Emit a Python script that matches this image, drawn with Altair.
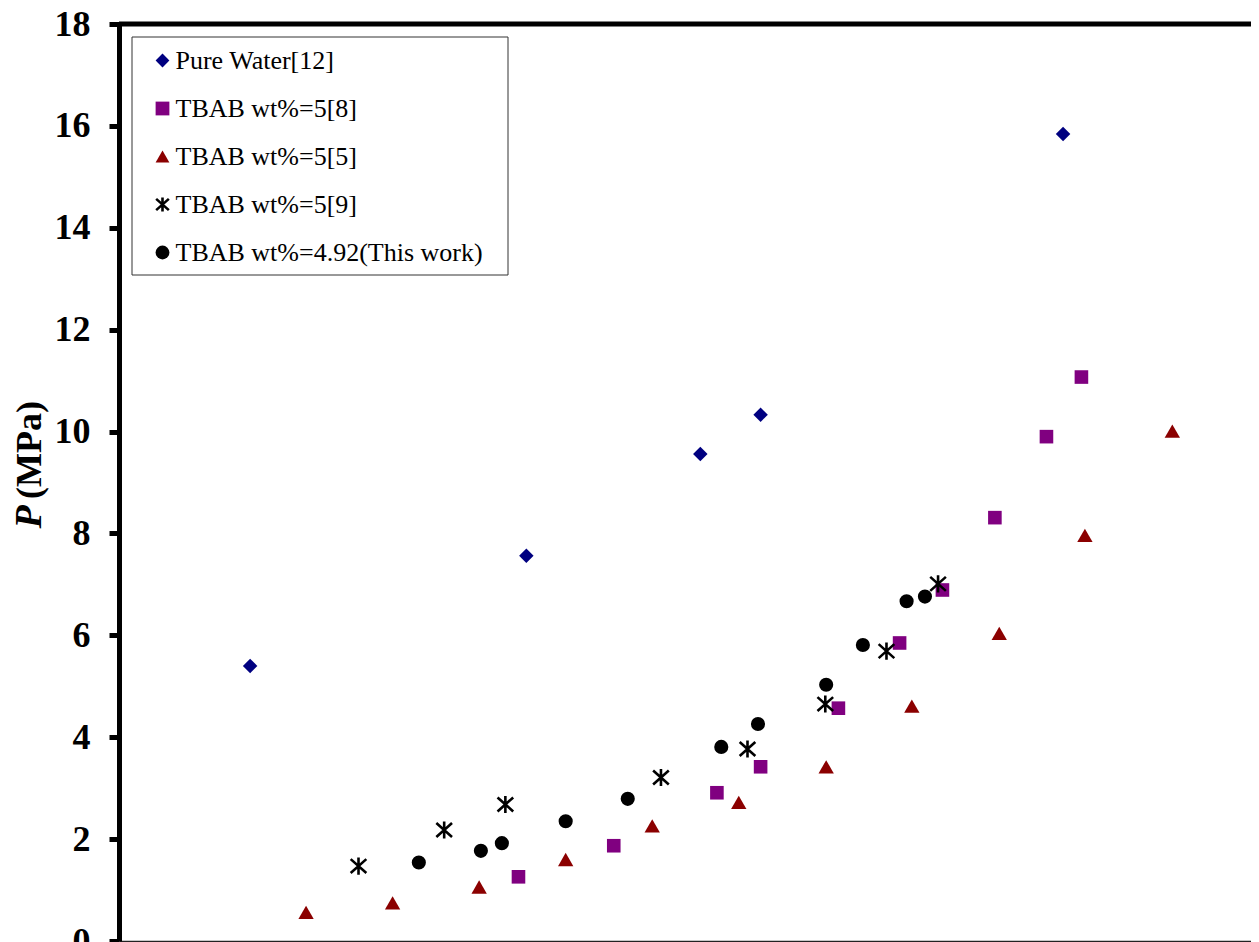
import altair as alt
import pandas as pd

series_names = [
    "Pure Water[12]",
    "TBAB wt%=5[8]",
    "TBAB wt%=5[5]",
    "TBAB wt%=5[9]",
    "TBAB wt%=4.92(This work)",
]

# Temperature (K) / pressure (MPa)
pw_T = [280.50, 283.66, 285.65, 286.34, 289.80]
pw_P = [5.40, 7.56, 9.56, 10.33, 15.84]

s8_T = [283.57, 284.66, 285.84, 286.34, 287.23, 287.93, 288.42, 289.02, 289.61, 290.01]
s8_P = [1.26, 1.87, 2.91, 3.42, 4.57, 5.85, 6.89, 8.31, 9.90, 11.07]

s5_T = [281.14, 282.13, 283.12, 284.11, 285.10, 286.09, 287.09, 288.07, 289.07, 290.05, 291.05]
s5_P = [0.56, 0.75, 1.06, 1.60, 2.26, 2.72, 3.42, 4.61, 6.04, 7.96, 10.01]

s9_T = [281.74, 282.72, 283.42, 285.20, 286.19, 287.08, 287.78, 288.37]
s9_P = [1.47, 2.18, 2.68, 3.21, 3.77, 4.65, 5.69, 7.01]

tw_T = [282.43, 283.14, 283.38, 284.11, 284.82, 285.89, 286.31, 287.09, 287.51, 288.01, 288.22]
tw_P = [1.54, 1.77, 1.92, 2.35, 2.79, 3.81, 4.26, 5.03, 5.81, 6.67, 6.76]

y_ticks = [0, 2, 4, 6, 8, 10, 12, 14, 16, 18]
x_domain = [279, 291.95]
y_domain = [0, 18]

asterisk = "M0,-1L0,1M-0.92,-0.82L0.92,0.82M-0.92,0.82L0.92,-0.82"
fills = ["#000080", "#800080", "#8B0000", "#000000", "#000000"]
strokes = ["transparent", "transparent", "transparent", "#000000", "transparent"]
shapes = ["diamond", "square", "triangle-up", asterisk, "circle"]
marker_area = [210, 185, 235, 290, 200]

rows = []
for name, Ts, Ps, a in zip(series_names,
                           [pw_T, s8_T, s5_T, s9_T, tw_T],
                           [pw_P, s8_P, s5_P, s9_P, tw_P],
                           marker_area):
    for t, p in zip(Ts, Ps):
        rows.append({"series": name, "T": t, "P": p, "area": a})
df = pd.DataFrame(rows)

W, H = 1132, 917
SERIF = "Liberation Serif"

xscale = alt.Scale(domain=x_domain, nice=False, zero=False)
yscale = alt.Scale(domain=y_domain, nice=False)

leg = alt.Legend(title=None, orient="top-left", offset=13,
                 labelFont=SERIF, labelFontSize=26, labelColor="black")

points = alt.Chart(df).mark_point(filled=True, opacity=1, strokeWidth=2.6).encode(
    x=alt.X("T:Q", scale=xscale,
            axis=alt.Axis(title=None, labels=False, ticks=False, grid=False,
                          domainColor="#222222", domainWidth=1.5)),
    y=alt.Y("P:Q", scale=yscale,
            axis=alt.Axis(title=None, values=y_ticks, grid=False, domainColor="black",
                          domainWidth=5, tickColor="black", tickWidth=5, tickSize=10,
                          labelFont=SERIF, labelFontWeight="bold",
                          labelFontSize=36, labelColor="black", labelPadding=19)),
    fill=alt.Fill("series:N", scale=alt.Scale(domain=series_names, range=fills), legend=leg),
    stroke=alt.Stroke("series:N", scale=alt.Scale(domain=series_names, range=strokes), legend=leg),
    shape=alt.Shape("series:N", scale=alt.Scale(domain=series_names, range=shapes), legend=leg),
    size=alt.Size("area:Q", scale=None),
)

# legend frame (drawn under the legend entries)
legend_frame = alt.Chart(pd.DataFrame({"f": [0]})).mark_rect(
    fill="white", stroke="#333333", strokeWidth=1
).encode(x=alt.value(13), x2=alt.value(389), y=alt.value(13), y2=alt.value(251))

top_rule = alt.Chart(pd.DataFrame({"y": [18]})).mark_rule(
    color="black", strokeWidth=5).encode(y=alt.Y("y:Q", scale=yscale))

title_p = alt.Chart(pd.DataFrame({"t": ["P"]})).mark_text(
    angle=270, font=SERIF, fontSize=38, fontWeight="bold",
    fontStyle="italic", align="center", baseline="middle", color="black"
).encode(text="t:N", x=alt.value(-89), y=alt.value(493))

title_u = alt.Chart(pd.DataFrame({"t": ["(MPa)"]})).mark_text(
    angle=270, font=SERIF, fontSize=36, fontWeight="bold",
    align="center", baseline="middle", color="black"
).encode(text="t:N", x=alt.value(-89), y=alt.value(426))

chart = alt.layer(legend_frame, top_rule, points, title_p, title_u).properties(
    width=W, height=H,
    autosize=alt.AutoSizeParams(type="none"),
    padding={"left": 111, "top": 16, "right": 0, "bottom": 1},
    background="white",
).configure_view(stroke=None).configure_legend(
    orient="top-left", offset=13,
    padding=10.5, rowPadding=22, symbolOffset=7, labelOffset=0,
    labelFont=SERIF, labelFontSize=26, labelColor="black",
    strokeColor="transparent", fillColor="transparent", symbolSize=190,
    symbolStrokeWidth=2.6, symbolOpacity=1, labelLimit=600,
)

chart.save("out.html", embed_options={"renderer": "svg", "actions": False})
